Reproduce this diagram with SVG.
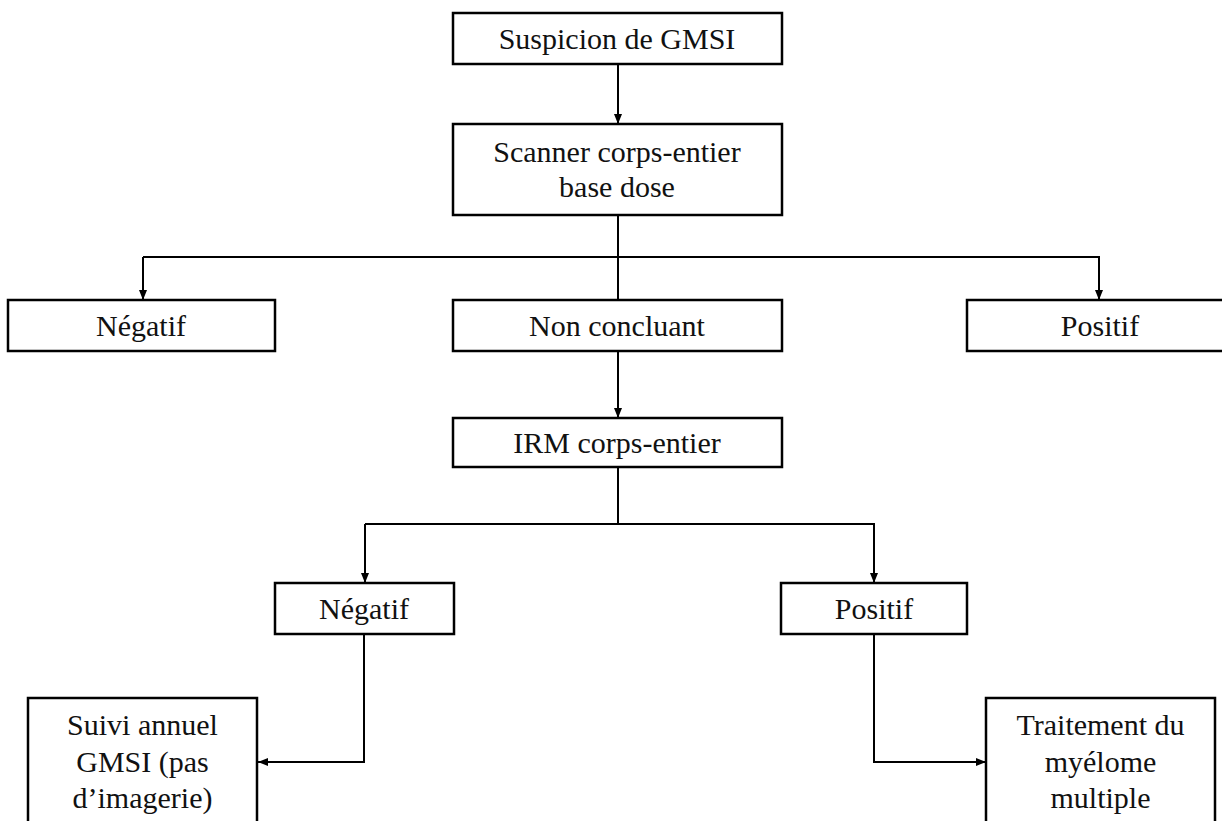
<svg xmlns="http://www.w3.org/2000/svg" width="1222" height="821" viewBox="0 0 1222 821">
<style>
.box{fill:#fff;stroke:#000;stroke-width:2.5}
.lbl{font-family:"Liberation Serif","Times New Roman",serif;font-size:30px;fill:#111;text-anchor:middle}
.ln{fill:none;stroke:#000;stroke-width:2}
.arr{marker-end:url(#ah)}
</style>
<defs>
<marker id="ah" viewBox="0 0 10 10" refX="10" refY="5" markerWidth="10" markerHeight="10" markerUnits="userSpaceOnUse" orient="auto">
<path d="M0,1 L10,5 L0,9 Z" fill="#000"/>
</marker>
</defs>
<rect width="1222" height="821" fill="#fff"/>
<g id="connectors">
<path class="ln arr" d="M618,64 V124"/>
<path class="ln" d="M618,215 V300"/>
<path class="ln arr" d="M143,257 H1099 V300"/>
<path class="ln arr" d="M143,257 V300"/>
<path class="ln arr" d="M618,351 V418"/>
<path class="ln" d="M618,467 V524"/>
<path class="ln arr" d="M365,524 H874 V583"/>
<path class="ln arr" d="M365,524 V583"/>
<path class="ln arr" d="M364,634 V762 H258"/>
<path class="ln arr" d="M874,634 V762 H986"/>
</g>
<g id="n-suspicion">
<rect class="box" x="453" y="13" width="329" height="51"/>
<text class="lbl" x="617" y="49">Suspicion de GMSI</text>
</g>
<g id="n-scanner">
<rect class="box" x="453" y="124" width="329" height="91"/>
<text class="lbl" x="617" y="162">Scanner corps-entier</text>
<text class="lbl" x="617" y="197">base dose</text>
</g>
<g id="n-negatif1">
<rect class="box" x="8" y="300" width="267" height="51"/>
<text class="lbl" x="141" y="336">Négatif</text>
</g>
<g id="n-nonconcluant">
<rect class="box" x="453" y="300" width="329" height="51"/>
<text class="lbl" x="617" y="336">Non concluant</text>
</g>
<g id="n-positif1">
<rect class="box" x="967" y="300" width="266" height="51"/>
<text class="lbl" x="1100" y="336">Positif</text>
</g>
<g id="n-irm">
<rect class="box" x="453" y="418" width="329" height="49"/>
<text class="lbl" x="617" y="453">IRM corps-entier</text>
</g>
<g id="n-negatif2">
<rect class="box" x="275" y="583" width="179" height="51"/>
<text class="lbl" x="364" y="619">Négatif</text>
</g>
<g id="n-positif2">
<rect class="box" x="781" y="583" width="186" height="51"/>
<text class="lbl" x="874" y="619">Positif</text>
</g>
<g id="n-suivi">
<rect class="box" x="28" y="698" width="229" height="140"/>
<text class="lbl" x="142.5" y="735">Suivi annuel</text>
<text class="lbl" x="142.5" y="772">GMSI (pas</text>
<text class="lbl" x="142.5" y="808">d’imagerie)</text>
</g>
<g id="n-traitement">
<rect class="box" x="986" y="698" width="229" height="140"/>
<text class="lbl" x="1100.5" y="735">Traitement du</text>
<text class="lbl" x="1100.5" y="772">myélome</text>
<text class="lbl" x="1100.5" y="808">multiple</text>
</g>
</svg>
